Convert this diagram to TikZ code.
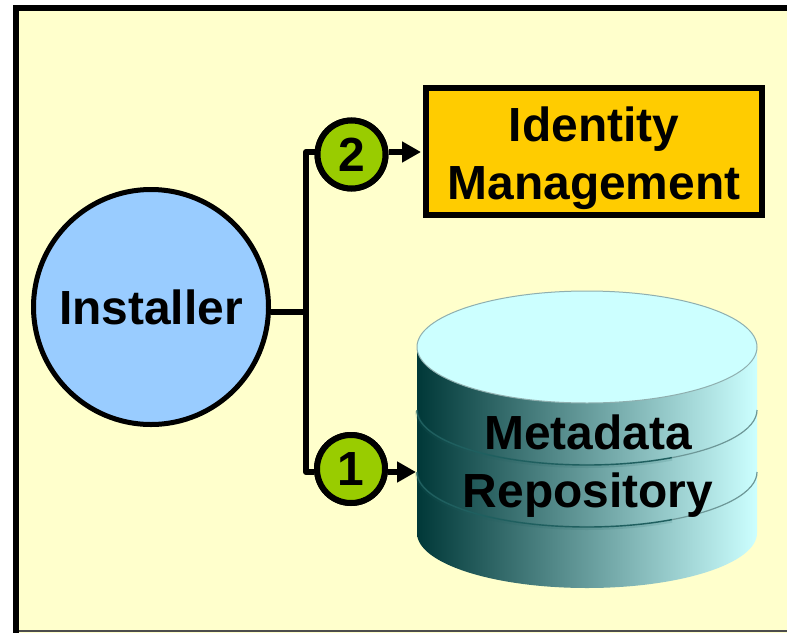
\documentclass[tikz,border=0pt]{standalone}
\usepackage{fontspec}
\setmainfont{Liberation Sans}
\usepackage{tikz}
\usetikzlibrary{arrows.meta}
\definecolor{paper}{HTML}{FFFFCC}
\definecolor{boxgold}{HTML}{FFCC00}
\definecolor{discblue}{HTML}{99CCFF}
\definecolor{badgegreen}{HTML}{99CC00}
\definecolor{cyltop}{HTML}{CCFFFF}
\definecolor{cyldark}{HTML}{003838}
\definecolor{cylline}{HTML}{1F5F5F}
\tikzstyle{label}=[font=\bfseries\fontsize{47.9}{58}\selectfont, text=black, inner sep=0pt, align=center]
\tikzstyle{disc}=[label, circle, draw=black, line width=5pt, fill=discblue, minimum size=235pt]
\tikzstyle{badge}=[label, circle, draw=black, line width=6pt, fill=badgegreen, minimum size=68pt]
\tikzstyle{goldbox}=[rectangle, draw=black, line width=6pt, fill=boxgold,
                    minimum width=336pt, minimum height=127pt]
\tikzstyle{wire}=[draw=black, line width=6pt, line join=round]
\tikzstyle{feed}=[draw=black, line width=5.5pt, -{Triangle[length=19pt,width=20pt]}]
\tikzstyle{band}=[draw=cylline, line width=1.4pt]
\tikzstyle{bandfar}=[draw=cylline!65, line width=1.2pt]
\tikzstyle{bandglow}=[draw=cylline, line width=4pt, opacity=.14]
\begin{document}
\begin{tikzpicture}[x=1pt,y=-1pt]

      \clip (0,0) rectangle (787,632);
      \fill[white] (0,0) rectangle (787,632);
      \draw[draw=black, line width=6pt, fill=paper] (16,8) rectangle (820,650);
      \draw[draw=black!70, line width=1.5pt] (19,631.2) -- (787,631.2);

      \node[disc] (inst) at (151,307) {Installer};
      \node[badge] (b2) at (351.5,154.5) {2};
      \node[badge] (b1) at (351,469) {1};
      \node[goldbox] (idm) at (594,151.5) {};
      \node[label] (idmtext) at (594,158.5) {Identity\\Management};

      \coordinate (joint) at (306,312);
      \coordinate (top) at (306,152);
      \coordinate (low) at (306,472);
      \coordinate (cyl) at (416,472);
      \coordinate (idmtip) at (421,152);

      \shade[left color=cyldark, right color=cyltop]
        (417,347) -- (417,533) arc[start angle=180, end angle=0, x radius=170, y radius=55]
        -- (757,347) -- cycle;
      \draw[bandglow] (417,411) arc[start angle=180, end angle=60, x radius=170, y radius=55];
      \draw[bandglow] (417,473) arc[start angle=180, end angle=60, x radius=170, y radius=55];
      \draw[band] (417,410) arc[start angle=180, end angle=60, x radius=170, y radius=55];
      \draw[band] (417,472) arc[start angle=180, end angle=60, x radius=170, y radius=55];
      \draw[bandfar] (757,410) arc[start angle=0, end angle=60, x radius=170, y radius=55];
      \draw[bandfar] (757,472) arc[start angle=0, end angle=60, x radius=170, y radius=55];
      \draw[draw=cylline!50, line width=1pt, fill=cyltop] (587,347) ellipse[x radius=170, y radius=56];

      \node[label] (repo) at (588,466) {Metadata\\Repository};

      \draw[wire] (b2.west |- top) -- (top) -- (low) -- (b1.west |- low);
      \draw[wire] (joint) -- (inst.east |- joint);
      \draw[feed] (b2.east |- top) -- (idmtip);
      \draw[feed] (b1.east |- cyl) -- (cyl);

      \node[badge] at (b2) {2};
      \node[badge] at (b1) {1};
\end{tikzpicture}
\end{document}
